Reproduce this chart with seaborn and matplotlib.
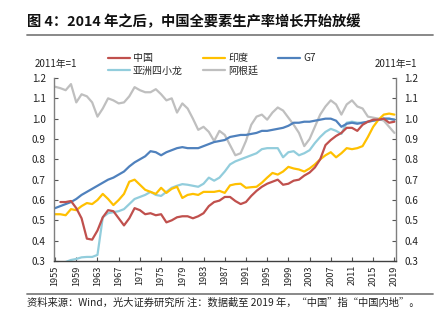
import numpy as np
import pandas as pd
import matplotlib
matplotlib.use("Agg")
import matplotlib.pyplot as plt
import seaborn as sns

sns.set_theme(style="white")
plt.rcParams["font.family"] = ["Noto Sans CJK SC", "DejaVu Sans"]
plt.rcParams["axes.unicode_minus"] = False

years = list(range(1955, 2020))

china = [np.nan,
         0.59, 0.59, 0.595, 0.56, 0.51, 0.41, 0.405, 0.45, 0.515, 0.55,
         0.545, 0.51, 0.475, 0.51, 0.56, 0.55, 0.53, 0.535, 0.525, 0.53,
         0.49, 0.50, 0.515, 0.52, 0.52, 0.51, 0.52, 0.535, 0.57, 0.59,
         0.597, 0.615, 0.615, 0.595, 0.58, 0.59, 0.62, 0.645, 0.665, 0.68,
         0.69, 0.70, 0.675, 0.68, 0.695, 0.70, 0.72, 0.735, 0.76, 0.80,
         0.87, 0.895, 0.915, 0.93, 0.955, 0.955, 0.94, 0.97, 0.985, 0.995,
         0.995, 1.0, 0.98, 0.985]

india = [0.53, 0.53, 0.525, 0.555, 0.55, 0.57, 0.585, 0.58, 0.60, 0.63,
         0.605, 0.575, 0.60, 0.63, 0.69, 0.70, 0.675, 0.65, 0.64, 0.63,
         0.66, 0.635, 0.655, 0.665, 0.61, 0.625, 0.63, 0.625, 0.64, 0.64,
         0.64, 0.645, 0.635, 0.672, 0.678, 0.68, 0.66, 0.663, 0.665, 0.685,
         0.71, 0.733, 0.725, 0.74, 0.763, 0.755, 0.75, 0.74, 0.755, 0.775,
         0.80, 0.82, 0.835, 0.81, 0.83, 0.855, 0.85, 0.855, 0.865, 0.91,
         0.96, 0.995, 1.02, 1.025, 1.02]

g7 = [0.56, 0.57, 0.58, 0.59, 0.605, 0.625, 0.64, 0.655, 0.67, 0.685,
      0.70, 0.71, 0.725, 0.74, 0.765, 0.785, 0.80, 0.815, 0.84, 0.835,
      0.82, 0.835, 0.845, 0.855, 0.86, 0.855, 0.855, 0.855, 0.865, 0.875,
      0.885, 0.89, 0.895, 0.91, 0.915, 0.92, 0.92, 0.925, 0.93, 0.94,
      0.94, 0.945, 0.95, 0.955, 0.965, 0.98, 0.98, 0.985, 0.985, 0.99,
      0.995, 1.0, 1.0, 0.99, 0.96, 0.975, 0.98, 0.975, 0.98, 0.985,
      0.99, 0.995, 1.0, 1.0, 0.995]

tigers = [np.nan, np.nan,
          0.295, 0.305, 0.31, 0.318, 0.32, 0.32, 0.33, 0.515, 0.535,
          0.54, 0.545, 0.555, 0.58, 0.605, 0.615, 0.625, 0.64, 0.625, 0.62,
          0.64, 0.66, 0.67, 0.678, 0.675, 0.67, 0.665, 0.68, 0.71, 0.695,
          0.71, 0.74, 0.775, 0.79, 0.80, 0.81, 0.82, 0.83, 0.85, 0.855,
          0.855, 0.855, 0.81, 0.835, 0.84, 0.82, 0.83, 0.845, 0.88, 0.91,
          0.935, 0.95, 0.94, 0.925, 0.98, 0.985, 0.98, 0.98, 0.985, 0.99,
          0.995, 1.0, 1.0, 0.995]

argentina = [1.157, 1.15, 1.14, 1.17, 1.08, 1.12, 1.11, 1.08, 1.01, 1.05,
             1.10, 1.09, 1.075, 1.08, 1.11, 1.155, 1.14, 1.13, 1.13, 1.145,
             1.12, 1.09, 1.10, 1.03, 1.075, 1.05, 1.00, 0.945, 0.96, 0.935,
             0.89, 0.94, 0.92, 0.87, 0.82, 0.83, 0.89, 0.97, 1.01, 1.02,
             0.995, 1.03, 1.055, 1.04, 1.005, 0.97, 0.93, 0.865, 0.90, 0.96,
             1.02, 1.06, 1.09, 1.07, 1.02, 1.07, 1.09, 1.06, 1.05, 1.01,
             1.005, 1.00, 0.99, 0.96, 0.93]

series_names = ["中国", "印度", "G7", "亚洲四小龙", "阿根廷"]
series_values = [china, india, g7, tigers, argentina]
colors = ["#C0504D", "#FFC000", "#4F81BD", "#92CDDC", "#BFBFBF"]
xtick_years = list(range(1955, 2020, 4))
ytick_values = [0.3, 0.4, 0.5, 0.6, 0.7, 0.8, 0.9, 1.0, 1.1, 1.2]

df = pd.concat(
    [pd.DataFrame({"year": years, "value": v, "series": n})
     for n, v in zip(series_names, series_values)],
    ignore_index=True,
)

fig = plt.figure(figsize=(4.44, 3.26), dpi=100)
ax = fig.add_axes([54 / 444, 1 - 261 / 326, 342 / 444, 183 / 326])

# draw gray first so the other series sit on top of it
draw_order = ["阿根廷", "亚洲四小龙", "G7", "印度", "中国"]
palette = dict(zip(series_names, colors))
for name in draw_order:
    sub = df[df["series"] == name].dropna()
    sns.lineplot(data=sub, x="year", y="value", ax=ax, color=palette[name],
                 linewidth=1.6, label=name, legend=False, clip_on=True)

ax.set_xlim(1954.8, 2019.3)
ax.set_ylim(0.3, 1.2)
ax.set_xlabel("")
ax.set_ylabel("")
ax.set_xticks(xtick_years)
ax.set_xticklabels([str(y) for y in xtick_years], rotation=90, fontsize=6.6,
                   color="#222222")
ax.set_yticks(ytick_values)
ax.set_yticklabels([f"{v:.1f}" for v in ytick_values], fontsize=7.2,
                   color="#222222")
ax.tick_params(axis="both", direction="in", length=3, width=0.8,
               color="#555555", pad=3)
ax.tick_params(axis="y", left=True, right=True, labelleft=True,
               labelright=True, pad=6)
ax.tick_params(axis="x", bottom=True, pad=3)

for side in ["left", "right", "bottom"]:
    ax.spines[side].set_visible(True)
    ax.spines[side].set_color("#7F7F7F")
    ax.spines[side].set_linewidth(1.0)
ax.spines["bottom"].set_color("#404040")
ax.spines["top"].set_visible(False)
ax.grid(False)

# legend laid out row by row: 中国 印度 G7 / 亚洲四小龙 阿根廷
handles, labels = ax.get_legend_handles_labels()
lookup = dict(zip(labels, handles))
order = ["中国", "亚洲四小龙", "印度", "阿根廷", "G7"]
fig.legend([lookup[k] for k in order], order, ncol=3, frameon=False,
           loc="upper left", bbox_to_anchor=(108 / 444, 1 - 53 / 326),
           fontsize=7.2, handlelength=2.2, handletextpad=0.3,
           columnspacing=2.0, labelspacing=0.25, borderaxespad=0,
           borderpad=0)

fig.text(35 / 444, 1 - 64 / 326, "2011年=1", fontsize=7, va="center",
         ha="left", color="#222222")
fig.text(417 / 444, 1 - 64 / 326, "2011年=1", fontsize=7, va="center",
         ha="right", color="#222222")

fig.text(27 / 444, 1 - 22 / 326, "图 4：2014 年之后，中国全要素生产率增长开始放缓",
         fontsize=10.3, fontweight="bold", va="center", ha="left",
         color="#111111")
fig.add_artist(plt.Line2D([27 / 444, 433 / 444], [1 - 35 / 326, 1 - 35 / 326],
                          color="#7F7F7F", linewidth=1.3))
fig.add_artist(plt.Line2D([27 / 444, 433 / 444], [1 - 294 / 326, 1 - 294 / 326],
                          color="#7F7F7F", linewidth=1.3))
fig.text(27 / 444, 1 - 303 / 326,
         "资料来源：Wind，光大证券研究所 注：数据截至 2019 年，“中国”指“中国内地”。",
         fontsize=7.4, va="center", ha="left", color="#222222")

fig.savefig("out.png", dpi=100)
